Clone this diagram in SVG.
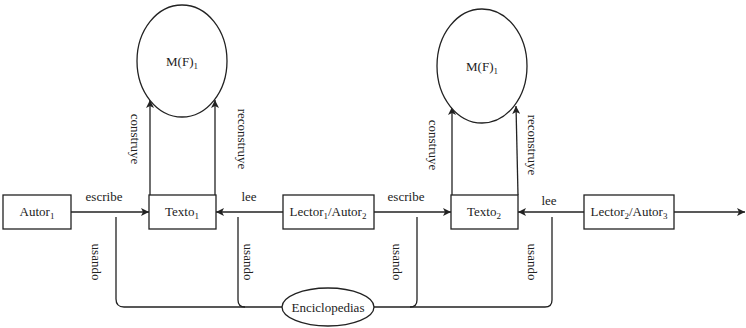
<svg xmlns="http://www.w3.org/2000/svg" width="746" height="328" viewBox="0 0 746 328">
<style>
.box{fill:#fff;stroke:#222;stroke-width:1.3}
.ell{fill:#fff;stroke:#222;stroke-width:1.3}
.ln{fill:none;stroke:#222;stroke-width:1.3}
.t{font-family:"Liberation Serif","Times New Roman",serif;font-size:13px;fill:#222;text-anchor:middle}
.s{font-size:9px}
</style>
<defs>
<marker id="ah" viewBox="0 0 10 10" refX="10" refY="5" markerWidth="8" markerHeight="8" markerUnits="userSpaceOnUse" orient="auto">
<path d="M0 0 L10 5 L0 10 L2.5 5 Z" fill="#222"/>
</marker>
</defs>
<rect width="746" height="328" fill="#fff"/>
<g id="connectors">
<path class="ln" d="M71 212 L149 212" marker-end="url(#ah)"/>
<path class="ln" d="M283 212 L216 212" marker-end="url(#ah)"/>
<path class="ln" d="M374 212 L451 212" marker-end="url(#ah)"/>
<path class="ln" d="M584 212 L518 212" marker-end="url(#ah)"/>
<path class="ln" d="M674 212 L745 212" marker-end="url(#ah)"/>
<path class="ln" d="M150 195 L150 100" marker-end="url(#ah)"/>
<path class="ln" d="M215 195 L215 100" marker-end="url(#ah)"/>
<path class="ln" d="M452 195 L452 107" marker-end="url(#ah)"/>
<path class="ln" d="M518 195 L516 106" marker-end="url(#ah)"/>
<path class="ln" d="M116 217 L116 299 Q116 307 124 307 L283 307"/>
<path class="ln" d="M238 217 L238 300 Q238 307 245 307"/>
<path class="ln" d="M372 307 L545 307 Q552 307 552 300 L552 217"/>
<path class="ln" d="M417 217 L417 300 Q417 307 410 307"/>
<text class="t" x="104" y="201">escribe</text>
<text class="t" x="249" y="201">lee</text>
<text class="t" x="406" y="201">escribe</text>
<text class="t" x="549" y="205">lee</text>
<text class="t" transform="translate(131 139) rotate(90)">construye</text>
<text class="t" transform="translate(238 139) rotate(90)">reconstruye</text>
<text class="t" transform="translate(429 145) rotate(90)">construye</text>
<text class="t" transform="translate(528 145) rotate(90)">reconstruye</text>
<text class="t" transform="translate(92 262) rotate(90)">usando</text>
<text class="t" transform="translate(244 262) rotate(90)">usando</text>
<text class="t" transform="translate(393 262) rotate(90)">usando</text>
<text class="t" transform="translate(528 262) rotate(90)">usando</text>
</g>
<g id="mf1">
<ellipse class="ell" cx="182" cy="61" rx="45" ry="56"/>
<text class="t" x="182" y="66">M(F)<tspan class="s" dy="3">1</tspan></text>
</g>
<g id="mf2">
<ellipse class="ell" cx="482" cy="66" rx="45" ry="57"/>
<text class="t" x="482" y="71">M(F)<tspan class="s" dy="3">1</tspan></text>
</g>
<g id="autor1">
<rect class="box" x="3" y="195" width="68" height="34"/>
<text class="t" x="37" y="216">Autor<tspan class="s" dy="3">1</tspan></text>
</g>
<g id="texto1">
<rect class="box" x="149" y="195" width="67" height="34"/>
<text class="t" x="182" y="216">Texto<tspan class="s" dy="3">1</tspan></text>
</g>
<g id="lector1">
<rect class="box" x="283" y="195" width="91" height="34"/>
<text class="t" x="328" y="216">Lector<tspan class="s" dy="3">1</tspan><tspan dy="-3">/Autor</tspan><tspan class="s" dy="3">2</tspan></text>
</g>
<g id="texto2">
<rect class="box" x="451" y="195" width="67" height="34"/>
<text class="t" x="484" y="216">Texto<tspan class="s" dy="3">2</tspan></text>
</g>
<g id="lector2">
<rect class="box" x="584" y="195" width="90" height="34"/>
<text class="t" x="629" y="216">Lector<tspan class="s" dy="3">2</tspan><tspan dy="-3">/Autor</tspan><tspan class="s" dy="3">3</tspan></text>
</g>
<g id="enciclopedias">
<ellipse class="ell" cx="328" cy="307" rx="46" ry="19"/>
<text class="t" x="328" y="312">Enciclopedias</text>
</g>
</svg>
